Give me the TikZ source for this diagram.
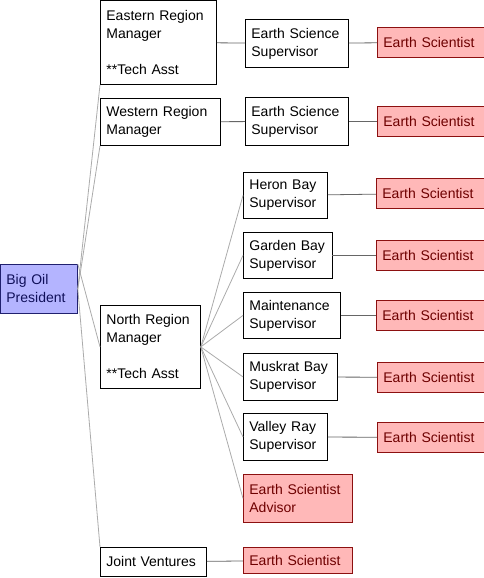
\documentclass[tikz,border=0pt]{standalone}
\usepackage{fontspec}
\setmainfont{Liberation Sans}
\definecolor{scifill}{HTML}{FFB8B8}
\definecolor{scidraw}{HTML}{8C1010}
\definecolor{scitext}{HTML}{6E0000}
\definecolor{presfill}{HTML}{B4B4FF}
\definecolor{presdraw}{HTML}{20206E}
\definecolor{prestext}{HTML}{10105A}
\begin{document}
\begin{tikzpicture}[
		x=0.75pt, y=-0.75pt,
		font=\fontsize{10.5}{13.5}\selectfont
	]
	\tikzset{
		orgbox/.style = {rectangle, draw=black, line width=0.6pt, fill=white, anchor=north west,
			align=left, inner xsep=4.5pt, inner ysep=1pt, text width=#1},
		presbox/.style = {orgbox=#1, draw=presdraw, fill=presfill, text=prestext},
		scibox/.style = {orgbox=#1, draw=scidraw, fill=scifill, text=scitext},
		link/.style = {-, line width=0.6pt, black!33},
		tie/.style = {-, line width=0.6pt, black!60},
	}
	\useasboundingbox (0,0) rectangle (483,578);
	%
	\node[presbox=48.75pt, minimum height=36.75pt] at (0,264) (pres) {Big Oil\\President};
	%
	\node[orgbox=78pt, minimum height=63pt] at (100,0) (east) {Eastern Region\\Manager\\[\baselineskip]**Tech Asst};
	\node[orgbox=81pt, minimum height=35.25pt] at (100,98) (west) {Western Region\\Manager};
	\node[orgbox=66pt, minimum height=62.25pt] at (100,305) (north) {North Region\\Manager\\[\baselineskip]**Tech Asst};
	\node[orgbox=70.5pt, minimum height=21.75pt] at (100,547) (joint) {Joint Ventures};
	%
	\node[orgbox=68.25pt, minimum height=36pt] at (245,19) (esse) {Earth Science\\Supervisor};
	\node[orgbox=68.25pt, minimum height=36pt] at (245,97) (essw) {Earth Science\\Supervisor};
	\node[orgbox=54pt, minimum height=34.5pt] at (243,172) (heron) {Heron Bay\\Supervisor};
	\node[orgbox=57.5pt, minimum height=34.5pt] at (243,232) (garden) {Garden Bay\\Supervisor};
	\node[orgbox=63.75pt, minimum height=34.5pt] at (243,292) (maint) {Maintenance\\Supervisor};
	\node[orgbox=61.5pt, minimum height=35.25pt] at (243,353) (muskrat) {Muskrat Bay\\Supervisor};
	\node[orgbox=54pt, minimum height=35.25pt] at (243,413) (valley) {Valley Ray\\Supervisor};
	\node[scibox=72.75pt, minimum height=36pt] at (243,474) (advisor) {Earth Scientist\\Advisor};
	\node[scibox=72.75pt, minimum height=19.5pt] at (243,547) (scij) {Earth Scientist};
	%
	\node[scibox=73.5pt, minimum height=22.5pt] at (377,27) (scie) {Earth Scientist};
	\node[scibox=73.5pt, minimum height=22.5pt] at (377,106) (sciw) {Earth Scientist};
	\node[scibox=73.5pt, minimum height=22.5pt] at (376,178) (sciheron) {Earth Scientist};
	\node[scibox=73.5pt, minimum height=22.5pt] at (376,240) (scigarden) {Earth Scientist};
	\node[scibox=73.5pt, minimum height=22.5pt] at (376,300) (scimaint) {Earth Scientist};
	\node[scibox=73.5pt, minimum height=22.5pt] at (377,362) (scimuskrat) {Earth Scientist};
	\node[scibox=73.5pt, minimum height=22.5pt] at (377,422) (scivalley) {Earth Scientist};
	%
	\draw[link] (pres.east) -- (east.south west);
	\draw[link] (pres.east) -- (west.south west);
	\draw[link] (pres.north east) -- (north.west);
	\draw[link] (pres.east) -- (joint.north west);
	%
	\draw[link] (north.east) edge (heron.west);
	\draw[link] (north.east) edge (garden.west);
	\draw[link] (north.east) edge (maint.west);
	\draw[link] (north.east) edge (muskrat.west);
	\draw[link] (north.east) edge (valley.west);
	\draw[link] (north.east) edge (advisor.west);
	%
	\draw[tie] (east) -- (esse);
	\draw[tie] (west) -- (essw);
	\draw[tie] (joint) -- (scij);
	\draw[tie] (esse) -- (scie);
	\draw[tie] (essw) -- (sciw);
	\draw[tie] (heron) -- (sciheron);
	\draw[tie] (garden) -- (scigarden);
	\draw[tie] (maint) -- (scimaint);
	\draw[tie] (muskrat) -- (scimuskrat);
	\draw[tie] (valley) -- (scivalley);
\end{tikzpicture}
\end{document}
